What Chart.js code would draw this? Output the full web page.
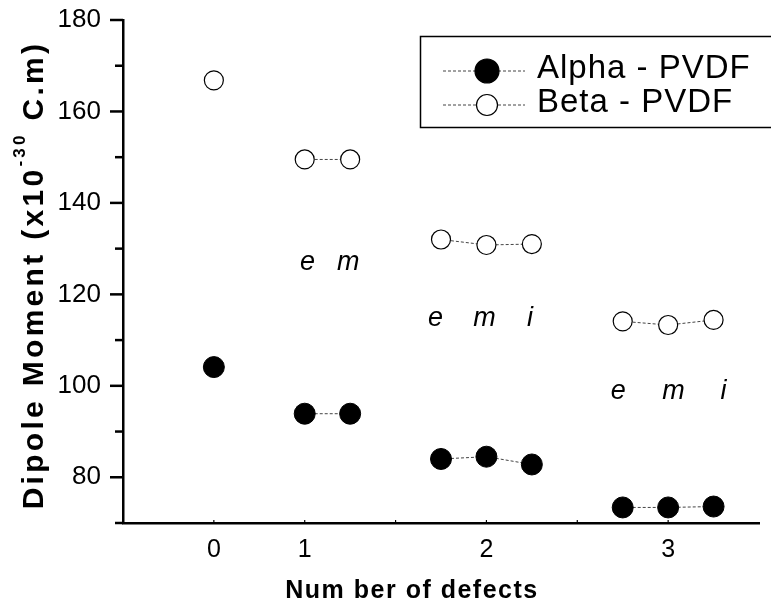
<!DOCTYPE html>
<html>
<head>
<meta charset="utf-8">
<script src="https://cdn.jsdelivr.net/npm/chart.js@4.4.1/dist/chart.umd.min.js"></script>
<style>
html,body{margin:0;padding:0;background:#fff;}
#wrap{width:771px;height:615px;}
</style>
</head>
<body>
<div id="wrap"><canvas id="dipole" width="771" height="615"></canvas></div>
<script>
/* -----------------------------
   DATA
------------------------------ */
const defectLabels = ["0","1","2","3"];
const defectTickPos = [0,1,3,5];

// site of each point on the axis and which defect group it belongs to
const pointX     = [0, 1, 1.5, 2.5, 3, 3.5, 4.5, 5, 5.5];
const pointGroup = [0, 1, 1,   2,   2, 2,   3,   3, 3];

const alphaPVDF = [104.1, 93.9, 93.9, 84.0, 84.5, 82.8, 73.4, 73.4, 73.6];
const betaPVDF  = [166.8, 149.5, 149.5, 132.0, 130.8, 131.0, 114.1, 113.3, 114.4];

const siteText = ["e","m","e","m","i","e","m","i"];
const siteX    = [1.03, 1.48, 2.44, 2.98, 3.48, 4.45, 5.06, 5.61];
const siteY    = [126.9, 126.9, 114.8, 114.8, 114.8, 98.8, 98.8, 98.8];

const seriesNames = ["Alpha - PVDF","Beta - PVDF"];

const FONT = "'Liberation Sans', Arial, sans-serif";
Chart.defaults.color = "#000";
Chart.defaults.font.family = FONT;

/* -----------------------------
   HELPERS
------------------------------ */
function toPoints(vals){
return pointX.map((x,i)=>({x:x,y:vals[i]}));
}

function groupSegment(color){
return ctx => pointGroup[ctx.p0DataIndex]===pointGroup[ctx.p1DataIndex] ? color : "rgba(0,0,0,0)";
}

function drawLine(ctx,x1,y1,x2,y2){
ctx.beginPath();
ctx.moveTo(x1,y1);
ctx.lineTo(x2,y2);
ctx.stroke();
}

/* -----------------------------
   OVERLAY: ticks, labels, legend, titles
------------------------------ */
const overlay = {
id:"overlay",
afterDraw(chart){
const ctx = chart.ctx, xs = chart.scales.x, ys = chart.scales.y, a = chart.chartArea;
ctx.save();
ctx.strokeStyle = "#000";
ctx.fillStyle = "#000";

// y ticks (outside), major every 20
ctx.lineWidth = 2.5;
ys.ticks.forEach(t=>{
let y = ys.getPixelForValue(t.value);
let len = t.value%20===0 ? 13 : 8;
drawLine(ctx,a.left-len,y,a.left,y);
});

// x ticks (tiny, inside)
ctx.lineWidth = 1.2;
for(let v=Math.ceil(xs.min)+1; v<xs.max; v++){
let x = xs.getPixelForValue(v);
drawLine(ctx,x,a.bottom-3,x,a.bottom);
}

// e / m / i site labels
ctx.font = "italic 27px "+FONT;
ctx.textAlign = "center";
ctx.textBaseline = "middle";
siteText.forEach((t,i)=>{
ctx.fillText(t, xs.getPixelForValue(siteX[i]), ys.getPixelForValue(siteY[i]));
});

// legend box
ctx.lineWidth = 1.5;
ctx.strokeRect(420.5,36.5,360,91);
let rows = [71,105];
chart.data.datasets.forEach((ds,i)=>{
let y = rows[i];
ctx.save();
ctx.strokeStyle = "#444";
ctx.lineWidth = 1;
ctx.setLineDash([3,2]);
drawLine(ctx,443,y,525,y);
ctx.restore();
ctx.beginPath();
ctx.arc(487,y,i===0?12:10.5,0,Math.PI*2);
ctx.fillStyle = ds.pointBackgroundColor;
ctx.fill();
ctx.lineWidth = 1.2;
ctx.stroke();
ctx.fillStyle = "#000";
ctx.font = "33px "+FONT;
ctx.letterSpacing = "1px";
ctx.textAlign = "left";
ctx.textBaseline = "alphabetic";
ctx.fillText(seriesNames[i],537,y+7);
ctx.letterSpacing = "0px";
});

// x title
ctx.font = "bold 25px "+FONT;
ctx.letterSpacing = "1.5px";
ctx.textAlign = "center";
ctx.textBaseline = "alphabetic";
ctx.fillText("Num ber of defects",412,598);

// y title, rotated, with superscript
let parts = [
{t:"Dipole Moment (x10", f:"bold 30px "+FONT, dy:0},
{t:"-30", f:"bold 17px "+FONT, dy:-18},
{t:" C.m)", f:"bold 30px "+FONT, dy:0}
];
ctx.letterSpacing = "3.3px";
let total = 0;
parts.forEach(p=>{ ctx.font=p.f; p.w=ctx.measureText(p.t).width; total+=p.w; });
ctx.translate(43,275);
ctx.rotate(-Math.PI/2);
ctx.textAlign = "left";
let cx = -total/2;
parts.forEach(p=>{
ctx.font = p.f;
ctx.fillText(p.t,cx,p.dy);
cx += p.w;
});
ctx.restore();
}
};

/* -----------------------------
   CHART
------------------------------ */
new Chart(document.getElementById("dipole"),{
type:"line",
data:{
datasets:[{
label:seriesNames[0],
data:toPoints(alphaPVDF),
borderColor:"#444",
borderWidth:1,
borderDash:[3,2],
segment:{borderColor:groupSegment("#444")},
pointRadius:10.5,
pointBackgroundColor:"#000",
pointBorderColor:"#000",
pointBorderWidth:1
},{
label:seriesNames[1],
data:toPoints(betaPVDF),
borderColor:"#444",
borderWidth:1,
borderDash:[3,2],
segment:{borderColor:groupSegment("#444")},
pointRadius:9.5,
pointBackgroundColor:"#fff",
pointBorderColor:"#000",
pointBorderWidth:1.2
}]
},
options:{
responsive:false,
animation:false,
layout:{padding:{top:20,right:12,left:0,bottom:0}},
plugins:{legend:{display:false},tooltip:{enabled:false}},
scales:{
x:{
type:"linear",
min:-1,
max:6,
afterBuildTicks:s=>{ s.ticks = defectTickPos.map(v=>({value:v})); },
afterFit:s=>{ s.height = 92; s.paddingLeft = 0; s.paddingRight = 0; },
ticks:{
padding:12,
autoSkip:false,
maxRotation:0,
font:{size:25},
callback:v=>defectLabels[defectTickPos.indexOf(v)]
},
grid:{display:true,drawOnChartArea:false,drawTicks:false},
border:{display:true,color:"#000",width:2.5}
},
y:{
min:70,
max:180,
afterFit:s=>{ s.width = 123; s.paddingTop = 0; s.paddingBottom = 0; },
ticks:{
stepSize:10,
autoSkip:false,
padding:22,
font:{size:26},
callback:v=>v%20===0 ? v : ""
},
grid:{display:true,drawOnChartArea:false,drawTicks:false},
border:{display:true,color:"#000",width:2.5}
}
}
},
plugins:[overlay]
});
</script>
</body>
</html>
